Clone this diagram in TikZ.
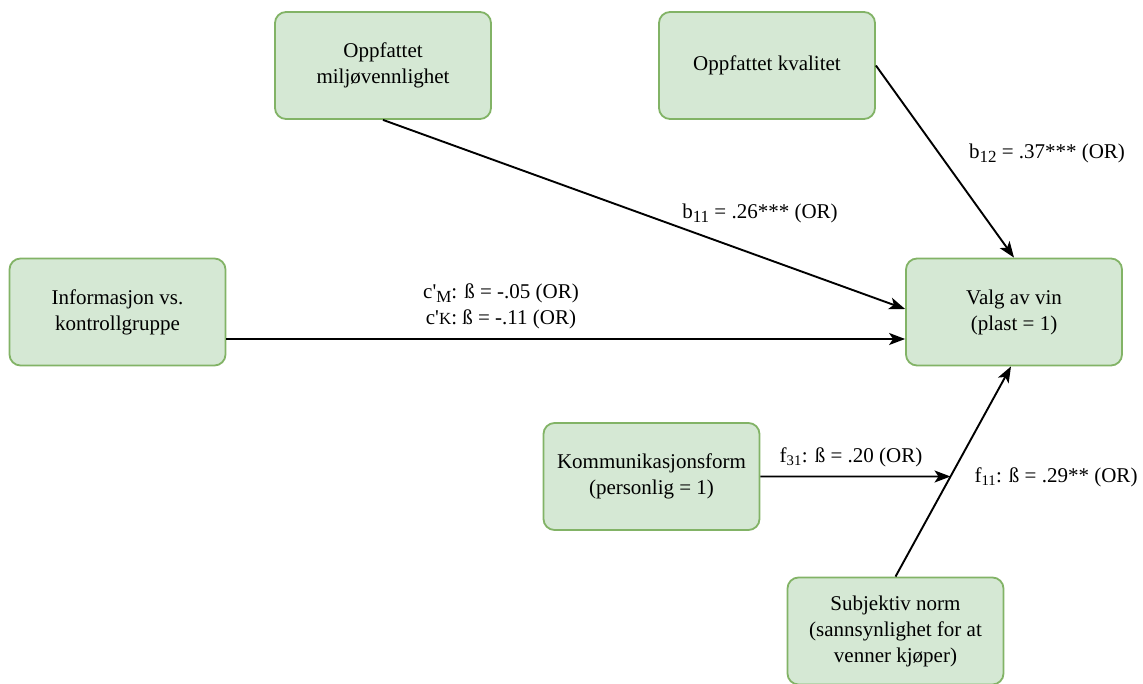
\documentclass[tikz,border=0pt]{standalone}
\usepackage{fontspec}
\setmainfont{Liberation Serif}
\usetikzlibrary{arrows.meta,intersections}
\definecolor{boxfill}{HTML}{D5E8D4}
\definecolor{boxline}{HTML}{82B366}
% lowered index in the text font: size, drop, text
\newcommand{\lowidx}[3]{\raisebox{-#2}{\fontsize{#1}{#1}\selectfont #3}}
\tikzset{
  var/.style={draw=boxline, fill=boxfill, line width=1.8pt, rounded corners=11pt,
    minimum width=216pt, minimum height=107pt, align=center, inner sep=2pt,
    font=\fontsize{21}{26}\selectfont},
  lbl/.style={align=center, inner sep=0pt, font=\fontsize{21}{26}\selectfont},
  path arrow/.style={draw=black, line width=1.9pt,
    -{Stealth[length=16pt,width=12pt,inset=4pt]}}
}
\begin{document}
\begin{tikzpicture}[x=1pt,y=-1pt]
  \useasboundingbox (0,0) rectangle (1143,684);

  % variables
  \node[var] (miljo) at (383,65.5) {Oppfattet\\miljøvennlighet};
  \node[var] (kval)  at (767,65.5) {Oppfattet kvalitet};
  \node[var] (info)  at (117.5,312) {Informasjon vs.\\kontrollgruppe};
  \node[var] (valg)  at (1014,312) {Valg av vin\\(plast = 1)};
  \node[var] (komm)  at (651.5,476.5) {Kommunikasjonsform\\(personlig = 1)};
  \node[var] (subj)  at (895.5,631) {Subjektiv norm\\(sannsynlighet for at\\venner kjøper)};

  % paths into the outcome
  \draw[path arrow] (miljo.south) -- ([yshift=3pt]valg.west);
  \draw[path arrow] (kval.east) -- (valg.north);
  \draw[path arrow] ([yshift=-27pt]info.east) -- ([yshift=-27pt]valg.west);
  \draw[path arrow, name path=normline] (subj.north) -- ([xshift=-3pt]valg.south);
  \path[name path=kommline] (komm.east) -- ++(300,0);
  \path[name intersections={of=normline and kommline, by=meet}];
  \draw[path arrow] (komm.east) -- (meet);

  % coefficients
  \node[lbl] (lb11) at (760,213) {b\lowidx{17}{4pt}{11} = .26*** (OR)};
  \node[lbl] (lb12) at (1047,153) {b\lowidx{17}{4pt}{12} = .37*** (OR)};
  \node[lbl] (lc)   at (501,306) {c\textquotesingle\lowidx{17}{4pt}{M}: ß = -.05 (OR)\\c\textquotesingle{\fontsize{17}{17}\selectfont K}: ß = -.11 (OR)};
  \node[lbl] (lf31) at (851,457) {f\textsubscript{31}: ß = .20 (OR)};
  \node[lbl] (lf11) at (1056,477) {f\textsubscript{11}: ß = .29** (OR)};
\end{tikzpicture}
\end{document}
